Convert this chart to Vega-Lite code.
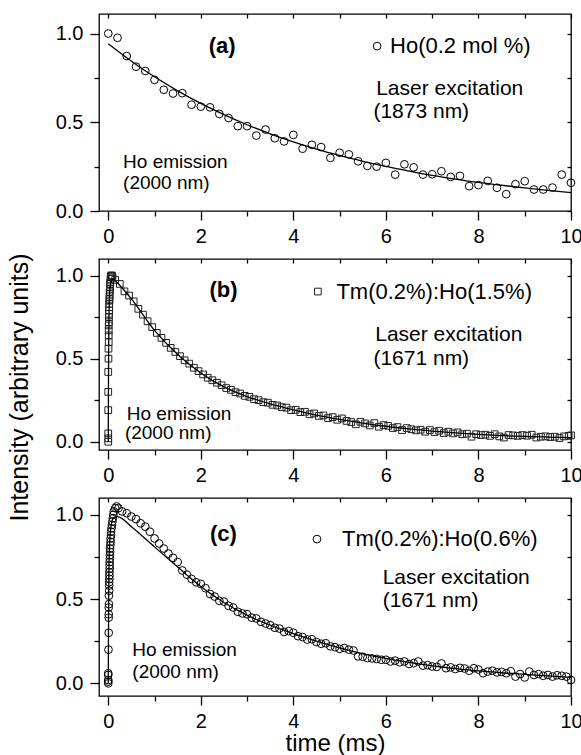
{
  "$schema": "https://vega.github.io/schema/vega-lite/v6.json",
  "padding": {"left": 6, "top": 12, "right": 0, "bottom": 0},
  "bounds": "flush",
  "spacing": 48,
  "datasets": {
    "a_pts": [
      {"t": 0, "I": 1.0}, {"t": 0.2, "I": 0.976}, {"t": 0.4, "I": 0.873}, {"t": 0.6, "I": 0.813}, {"t": 0.8, "I": 0.789},
      {"t": 1.0, "I": 0.739}, {"t": 1.2, "I": 0.683}, {"t": 1.4, "I": 0.662}, {"t": 1.6, "I": 0.664}, {"t": 1.8, "I": 0.599},
      {"t": 2.0, "I": 0.588}, {"t": 2.2, "I": 0.584}, {"t": 2.4, "I": 0.547}, {"t": 2.6, "I": 0.524}, {"t": 2.8, "I": 0.478},
      {"t": 3.0, "I": 0.478}, {"t": 3.2, "I": 0.425}, {"t": 3.4, "I": 0.459}, {"t": 3.6, "I": 0.41}, {"t": 3.8, "I": 0.392},
      {"t": 4.0, "I": 0.429}, {"t": 4.2, "I": 0.351}, {"t": 4.4, "I": 0.373}, {"t": 4.6, "I": 0.36}, {"t": 4.8, "I": 0.299},
      {"t": 5.0, "I": 0.328}, {"t": 5.2, "I": 0.319}, {"t": 5.4, "I": 0.28}, {"t": 5.6, "I": 0.254}, {"t": 5.8, "I": 0.25},
      {"t": 6.0, "I": 0.271}, {"t": 6.2, "I": 0.205}, {"t": 6.4, "I": 0.263}, {"t": 6.6, "I": 0.246}, {"t": 6.8, "I": 0.205},
      {"t": 7.0, "I": 0.207}, {"t": 7.2, "I": 0.224}, {"t": 7.4, "I": 0.192}, {"t": 7.6, "I": 0.198}, {"t": 7.8, "I": 0.14},
      {"t": 8.0, "I": 0.146}, {"t": 8.2, "I": 0.17}, {"t": 8.4, "I": 0.131}, {"t": 8.6, "I": 0.095}, {"t": 8.8, "I": 0.151},
      {"t": 9.0, "I": 0.168}, {"t": 9.2, "I": 0.121}, {"t": 9.4, "I": 0.121}, {"t": 9.6, "I": 0.132}, {"t": 9.8, "I": 0.205},
      {"t": 10.0, "I": 0.159}
    ],
    "a_fit": [
      {"t": 0, "I": 0.942}, {"t": 0.5, "I": 0.844}, {"t": 1.0, "I": 0.756}, {"t": 1.5, "I": 0.677}, {"t": 2.0, "I": 0.606},
      {"t": 2.5, "I": 0.543}, {"t": 3.0, "I": 0.486}, {"t": 3.5, "I": 0.435}, {"t": 4.0, "I": 0.39}, {"t": 4.5, "I": 0.349},
      {"t": 5.0, "I": 0.313}, {"t": 5.5, "I": 0.28}, {"t": 6.0, "I": 0.251}, {"t": 6.5, "I": 0.225}, {"t": 7.0, "I": 0.201},
      {"t": 7.5, "I": 0.18}, {"t": 8.0, "I": 0.161}, {"t": 8.5, "I": 0.145}, {"t": 9.0, "I": 0.13}, {"t": 9.5, "I": 0.116},
      {"t": 10.0, "I": 0.104}
    ],
    "b_pts": [
      {"t": 0, "I": 0.0}, {"t": 0, "I": 0.02}, {"t": 0, "I": 0.05}, {"t": 0, "I": 0.19}, {"t": 0, "I": 0.3},
      {"t": 0, "I": 0.42}, {"t": 0.005, "I": 0.5}, {"t": 0.005, "I": 0.56}, {"t": 0.01, "I": 0.6}, {"t": 0.01, "I": 0.64},
      {"t": 0.01, "I": 0.67}, {"t": 0.01, "I": 0.7}, {"t": 0.015, "I": 0.72}, {"t": 0.015, "I": 0.75}, {"t": 0.015, "I": 0.77},
      {"t": 0.02, "I": 0.79}, {"t": 0.02, "I": 0.81}, {"t": 0.02, "I": 0.83}, {"t": 0.025, "I": 0.85}, {"t": 0.025, "I": 0.86},
      {"t": 0.03, "I": 0.88}, {"t": 0.03, "I": 0.9}, {"t": 0.035, "I": 0.91}, {"t": 0.04, "I": 0.93}, {"t": 0.04, "I": 0.95},
      {"t": 0.045, "I": 0.96}, {"t": 0.05, "I": 0.98}, {"t": 0.055, "I": 0.99}, {"t": 0.06, "I": 1.0}, {"t": 0.07, "I": 1.0},
      {"t": 0.08, "I": 1.0}, {"t": 0.09, "I": 0.99},
      {"t": 0.15, "I": 0.975}, {"t": 0.25, "I": 0.95}, {"t": 0.35, "I": 0.905}, {"t": 0.45, "I": 0.88}, {"t": 0.55, "I": 0.845},
      {"t": 0.65, "I": 0.8}, {"t": 0.75, "I": 0.765}, {"t": 0.85, "I": 0.725}, {"t": 0.95, "I": 0.69}, {"t": 1.05, "I": 0.655},
      {"t": 1.15, "I": 0.625}, {"t": 1.25, "I": 0.595}, {"t": 1.35, "I": 0.565}, {"t": 1.45, "I": 0.54}, {"t": 1.55, "I": 0.515},
      {"t": 1.65, "I": 0.49}, {"t": 1.75, "I": 0.47}, {"t": 1.85, "I": 0.445}, {"t": 1.95, "I": 0.425}, {"t": 2.05, "I": 0.405},
      {"t": 2.15, "I": 0.385}, {"t": 2.25, "I": 0.37}, {"t": 2.35, "I": 0.355}, {"t": 2.45, "I": 0.34}, {"t": 2.55, "I": 0.323},
      {"t": 2.65, "I": 0.312}, {"t": 2.75, "I": 0.298}, {"t": 2.85, "I": 0.29}, {"t": 2.95, "I": 0.276}, {"t": 3.05, "I": 0.27},
      {"t": 3.15, "I": 0.256}, {"t": 3.25, "I": 0.25}, {"t": 3.35, "I": 0.238}, {"t": 3.45, "I": 0.235}, {"t": 3.55, "I": 0.222},
      {"t": 3.65, "I": 0.218}, {"t": 3.75, "I": 0.208}, {"t": 3.85, "I": 0.205}, {"t": 3.95, "I": 0.19}, {"t": 4.05, "I": 0.192},
      {"t": 4.15, "I": 0.178}, {"t": 4.25, "I": 0.18}, {"t": 4.35, "I": 0.165}, {"t": 4.45, "I": 0.17}, {"t": 4.55, "I": 0.155},
      {"t": 4.65, "I": 0.158}, {"t": 4.75, "I": 0.142}, {"t": 4.85, "I": 0.148}, {"t": 4.95, "I": 0.132}, {"t": 5.05, "I": 0.14},
      {"t": 5.15, "I": 0.125}, {"t": 5.25, "I": 0.118}, {"t": 5.35, "I": 0.105}, {"t": 5.45, "I": 0.12}, {"t": 5.55, "I": 0.11},
      {"t": 5.65, "I": 0.098}, {"t": 5.75, "I": 0.112}, {"t": 5.85, "I": 0.09}, {"t": 5.95, "I": 0.1}, {"t": 6.05, "I": 0.095},
      {"t": 6.15, "I": 0.082}, {"t": 6.25, "I": 0.088}, {"t": 6.35, "I": 0.07}, {"t": 6.45, "I": 0.082}, {"t": 6.55, "I": 0.075},
      {"t": 6.65, "I": 0.068}, {"t": 6.75, "I": 0.072}, {"t": 6.85, "I": 0.06}, {"t": 6.95, "I": 0.07}, {"t": 7.05, "I": 0.058},
      {"t": 7.15, "I": 0.066}, {"t": 7.25, "I": 0.052}, {"t": 7.35, "I": 0.06}, {"t": 7.45, "I": 0.05}, {"t": 7.55, "I": 0.056},
      {"t": 7.65, "I": 0.045}, {"t": 7.75, "I": 0.048}, {"t": 7.85, "I": 0.03}, {"t": 7.95, "I": 0.045}, {"t": 8.05, "I": 0.04},
      {"t": 8.15, "I": 0.042}, {"t": 8.25, "I": 0.035}, {"t": 8.35, "I": 0.045}, {"t": 8.45, "I": 0.032}, {"t": 8.55, "I": 0.025},
      {"t": 8.65, "I": 0.04}, {"t": 8.75, "I": 0.038}, {"t": 8.85, "I": 0.035}, {"t": 8.95, "I": 0.04}, {"t": 9.05, "I": 0.036},
      {"t": 9.15, "I": 0.042}, {"t": 9.25, "I": 0.025}, {"t": 9.35, "I": 0.03}, {"t": 9.45, "I": 0.032}, {"t": 9.55, "I": 0.028},
      {"t": 9.65, "I": 0.03}, {"t": 9.75, "I": 0.022}, {"t": 9.85, "I": 0.032}, {"t": 9.95, "I": 0.035}, {"t": 10.0, "I": 0.038}
    ],
    "b_fit": [
      {"t": 0, "I": 0}, {"t": 0.004, "I": 0.3}, {"t": 0.008, "I": 0.55}, {"t": 0.015, "I": 0.75}, {"t": 0.03, "I": 0.9},
      {"t": 0.06, "I": 0.965}, {"t": 0.1, "I": 0.98}, {"t": 0.2, "I": 0.955}, {"t": 0.5, "I": 0.86}, {"t": 1.0, "I": 0.67},
      {"t": 1.5, "I": 0.525}, {"t": 2.0, "I": 0.414}, {"t": 2.5, "I": 0.33}, {"t": 3.0, "I": 0.272}, {"t": 3.5, "I": 0.228},
      {"t": 4.0, "I": 0.192}, {"t": 4.5, "I": 0.16}, {"t": 5.0, "I": 0.134}, {"t": 5.5, "I": 0.112}, {"t": 6.0, "I": 0.093},
      {"t": 6.5, "I": 0.077}, {"t": 7.0, "I": 0.064}, {"t": 7.5, "I": 0.053}, {"t": 8.0, "I": 0.044}, {"t": 8.5, "I": 0.037},
      {"t": 9.0, "I": 0.032}, {"t": 9.5, "I": 0.028}, {"t": 10.0, "I": 0.025}
    ],
    "c_pts": [
      {"t": 0, "I": 0.0}, {"t": 0, "I": 0.01}, {"t": 0, "I": 0.02}, {"t": 0, "I": 0.05}, {"t": 0, "I": 0.06},
      {"t": 0.005, "I": 0.2}, {"t": 0.01, "I": 0.3}, {"t": 0.01, "I": 0.39}, {"t": 0.01, "I": 0.41}, {"t": 0.01, "I": 0.45},
      {"t": 0.015, "I": 0.47}, {"t": 0.015, "I": 0.52}, {"t": 0.02, "I": 0.55}, {"t": 0.02, "I": 0.58}, {"t": 0.02, "I": 0.6},
      {"t": 0.025, "I": 0.62}, {"t": 0.025, "I": 0.64}, {"t": 0.025, "I": 0.66}, {"t": 0.03, "I": 0.68}, {"t": 0.03, "I": 0.7},
      {"t": 0.03, "I": 0.72}, {"t": 0.035, "I": 0.74}, {"t": 0.035, "I": 0.76}, {"t": 0.04, "I": 0.78}, {"t": 0.04, "I": 0.8},
      {"t": 0.045, "I": 0.82}, {"t": 0.05, "I": 0.84}, {"t": 0.05, "I": 0.86}, {"t": 0.06, "I": 0.88}, {"t": 0.06, "I": 0.9},
      {"t": 0.07, "I": 0.92}, {"t": 0.08, "I": 0.94}, {"t": 0.09, "I": 0.96}, {"t": 0.1, "I": 0.98}, {"t": 0.11, "I": 1.0},
      {"t": 0.12, "I": 1.02}, {"t": 0.15, "I": 1.04}, {"t": 0.18, "I": 1.05}, {"t": 0.22, "I": 1.04},
      {"t": 0.3, "I": 1.02}, {"t": 0.4, "I": 1.01}, {"t": 0.5, "I": 0.99}, {"t": 0.6, "I": 0.975}, {"t": 0.7, "I": 0.95},
      {"t": 0.8, "I": 0.93}, {"t": 0.9, "I": 0.9}, {"t": 1.0, "I": 0.86}, {"t": 1.1, "I": 0.83}, {"t": 1.2, "I": 0.8},
      {"t": 1.3, "I": 0.77}, {"t": 1.4, "I": 0.745}, {"t": 1.5, "I": 0.72}, {"t": 1.6, "I": 0.67}, {"t": 1.7, "I": 0.645},
      {"t": 1.8, "I": 0.62}, {"t": 1.9, "I": 0.6}, {"t": 2.0, "I": 0.59}, {"t": 2.1, "I": 0.565}, {"t": 2.2, "I": 0.53},
      {"t": 2.3, "I": 0.515}, {"t": 2.4, "I": 0.49}, {"t": 2.5, "I": 0.485}, {"t": 2.6, "I": 0.46}, {"t": 2.7, "I": 0.45},
      {"t": 2.8, "I": 0.425}, {"t": 2.9, "I": 0.415}, {"t": 3.0, "I": 0.41}, {"t": 3.1, "I": 0.39}, {"t": 3.2, "I": 0.385},
      {"t": 3.3, "I": 0.365}, {"t": 3.4, "I": 0.355}, {"t": 3.5, "I": 0.345}, {"t": 3.6, "I": 0.33}, {"t": 3.7, "I": 0.325},
      {"t": 3.8, "I": 0.305}, {"t": 3.9, "I": 0.31}, {"t": 4.0, "I": 0.3}, {"t": 4.1, "I": 0.28}, {"t": 4.2, "I": 0.275},
      {"t": 4.3, "I": 0.26}, {"t": 4.4, "I": 0.262}, {"t": 4.5, "I": 0.245}, {"t": 4.6, "I": 0.235}, {"t": 4.7, "I": 0.238},
      {"t": 4.8, "I": 0.22}, {"t": 4.9, "I": 0.215}, {"t": 5.0, "I": 0.205}, {"t": 5.1, "I": 0.21}, {"t": 5.2, "I": 0.2},
      {"t": 5.3, "I": 0.195}, {"t": 5.4, "I": 0.16}, {"t": 5.5, "I": 0.158}, {"t": 5.6, "I": 0.15}, {"t": 5.7, "I": 0.148},
      {"t": 5.8, "I": 0.145}, {"t": 5.9, "I": 0.14}, {"t": 6.0, "I": 0.14}, {"t": 6.1, "I": 0.13}, {"t": 6.2, "I": 0.135},
      {"t": 6.3, "I": 0.125}, {"t": 6.4, "I": 0.13}, {"t": 6.5, "I": 0.115}, {"t": 6.6, "I": 0.12}, {"t": 6.7, "I": 0.13},
      {"t": 6.8, "I": 0.105}, {"t": 6.9, "I": 0.108}, {"t": 7.0, "I": 0.1}, {"t": 7.1, "I": 0.098}, {"t": 7.2, "I": 0.118},
      {"t": 7.3, "I": 0.09}, {"t": 7.4, "I": 0.095}, {"t": 7.5, "I": 0.085}, {"t": 7.6, "I": 0.092}, {"t": 7.7, "I": 0.088},
      {"t": 7.8, "I": 0.075}, {"t": 7.9, "I": 0.09}, {"t": 8.0, "I": 0.082}, {"t": 8.1, "I": 0.06}, {"t": 8.2, "I": 0.07},
      {"t": 8.3, "I": 0.075}, {"t": 8.4, "I": 0.065}, {"t": 8.5, "I": 0.068}, {"t": 8.6, "I": 0.06}, {"t": 8.7, "I": 0.072},
      {"t": 8.8, "I": 0.04}, {"t": 8.9, "I": 0.055}, {"t": 9.0, "I": 0.035}, {"t": 9.1, "I": 0.07}, {"t": 9.2, "I": 0.05},
      {"t": 9.3, "I": 0.055}, {"t": 9.4, "I": 0.045}, {"t": 9.5, "I": 0.05}, {"t": 9.6, "I": 0.04}, {"t": 9.7, "I": 0.048},
      {"t": 9.8, "I": 0.045}, {"t": 9.9, "I": 0.04}, {"t": 10.0, "I": 0.02}
    ],
    "c_fit": [
      {"t": 0, "I": 0}, {"t": 0.005, "I": 0.3}, {"t": 0.01, "I": 0.55}, {"t": 0.02, "I": 0.75}, {"t": 0.04, "I": 0.88},
      {"t": 0.07, "I": 0.95}, {"t": 0.12, "I": 0.985}, {"t": 0.2, "I": 0.99}, {"t": 0.5, "I": 0.93}, {"t": 1.0, "I": 0.81},
      {"t": 1.5, "I": 0.69}, {"t": 2.0, "I": 0.575}, {"t": 2.5, "I": 0.48}, {"t": 3.0, "I": 0.405}, {"t": 3.5, "I": 0.345},
      {"t": 4.0, "I": 0.295}, {"t": 4.5, "I": 0.25}, {"t": 5.0, "I": 0.21}, {"t": 5.5, "I": 0.175}, {"t": 6.0, "I": 0.148},
      {"t": 6.5, "I": 0.124}, {"t": 7.0, "I": 0.104}, {"t": 7.5, "I": 0.088}, {"t": 8.0, "I": 0.074}, {"t": 8.5, "I": 0.063},
      {"t": 9.0, "I": 0.053}, {"t": 9.5, "I": 0.044}, {"t": 10.0, "I": 0.035}
    ]
  },
  "vconcat": [
    {
      "width": 472,
      "height": 197,
      "layer": [
        {
          "data": {"name": "a_pts"},
          "mark": {"type": "point", "shape": "circle", "filled": false, "size": 60, "stroke": "black", "strokeWidth": 1, "opacity": 1},
          "encoding": {
            "x": {"field": "t", "type": "quantitative", "scale": {"domain": [-0.2, 10], "nice": false, "zero": false},
              "axis": {"orient": "bottom", "title": null, "values": [0, 1, 2, 3, 4, 5, 6, 7, 8, 9, 10],
                "labelExpr": "datum.value % 2 === 0 ? datum.label : ''",
                "tickSize": {"condition": {"test": "datum.value % 2 !== 0", "value": 5}, "value": 9}}},
            "y": {"field": "I", "type": "quantitative", "scale": {"domain": [0, 1.11], "nice": false, "zero": false},
              "axis": {"orient": "left", "title": null, "values": [0, 0.25, 0.5, 0.75, 1], "format": ".1f",
                "labelExpr": "round(datum.value * 4) % 2 === 0 ? datum.label : ''",
                "tickSize": {"condition": {"test": "round(datum.value * 4) % 2 !== 0", "value": 5}, "value": 9}}}
          }
        },
        {
          "data": {"name": "a_fit"},
          "mark": {"type": "line", "color": "black", "strokeWidth": 1.3, "interpolate": "monotone"},
          "encoding": {
            "x": {"field": "t", "type": "quantitative",
              "axis": {"orient": "top", "title": null, "labels": false, "values": [0, 1, 2, 3, 4, 5, 6, 7, 8, 9, 10], "tickSize": -4}},
            "y": {"field": "I", "type": "quantitative",
              "axis": {"orient": "right", "title": null, "labels": false, "values": [0, 0.25, 0.5, 0.75, 1], "tickSize": -4}}
          }
        },
        {
          "data": {"values": [{}]},
          "mark": {"type": "text", "fontWeight": "bold", "fontSize": 22, "align": "center", "baseline": "middle"},
          "encoding": {"x": {"datum": 2.46, "type": "quantitative", "axis": null}, "y": {"datum": 0.929, "type": "quantitative", "axis": null}, "text": {"value": "(a)"}}
        },
        {
          "data": {"values": [{}]},
          "mark": {"type": "point", "shape": "circle", "filled": false, "size": 60, "stroke": "black", "strokeWidth": 1, "opacity": 1},
          "encoding": {"x": {"datum": 5.81, "type": "quantitative", "axis": null}, "y": {"datum": 0.929, "type": "quantitative", "axis": null}}
        },
        {
          "data": {"values": [{}]},
          "mark": {"type": "text", "align": "left", "baseline": "middle", "fontSize": 22},
          "encoding": {"x": {"datum": 6.09, "type": "quantitative", "axis": null}, "y": {"datum": 0.929, "type": "quantitative", "axis": null}, "text": {"value": "Ho(0.2 mol %)"}}
        },
        {
          "data": {"values": [{}]},
          "mark": {"type": "text", "align": "left", "baseline": "middle"},
          "encoding": {"x": {"datum": 5.79, "type": "quantitative", "axis": null}, "y": {"datum": 0.69, "type": "quantitative", "axis": null}, "text": {"value": "Laser excitation"}}
        },
        {
          "data": {"values": [{}]},
          "mark": {"type": "text", "align": "left", "baseline": "middle"},
          "encoding": {"x": {"datum": 5.73, "type": "quantitative", "axis": null}, "y": {"datum": 0.556, "type": "quantitative", "axis": null}, "text": {"value": "(1873 nm)"}}
        },
        {
          "data": {"values": [{}]},
          "mark": {"type": "text", "align": "left", "baseline": "middle", "fontSize": 19},
          "encoding": {"x": {"datum": 0.32, "type": "quantitative", "axis": null}, "y": {"datum": 0.276, "type": "quantitative", "axis": null}, "text": {"value": "Ho emission"}}
        },
        {
          "data": {"values": [{}]},
          "mark": {"type": "text", "align": "left", "baseline": "middle", "fontSize": 19},
          "encoding": {"x": {"datum": 0.32, "type": "quantitative", "axis": null}, "y": {"datum": 0.155, "type": "quantitative", "axis": null}, "text": {"value": "(2000 nm)"}}
        }
      ]
    },
    {
      "width": 472,
      "height": 191,
      "layer": [
        {
          "data": {"name": "b_pts"},
          "mark": {"type": "point", "shape": "square", "filled": false, "size": 45, "stroke": "#222", "strokeWidth": 1, "opacity": 1},
          "encoding": {
            "x": {"field": "t", "type": "quantitative", "scale": {"domain": [-0.2, 10], "nice": false, "zero": false},
              "axis": {"orient": "bottom", "title": null, "values": [0, 1, 2, 3, 4, 5, 6, 7, 8, 9, 10],
                "labelExpr": "datum.value % 2 === 0 ? datum.label : ''",
                "tickSize": {"condition": {"test": "datum.value % 2 !== 0", "value": 5}, "value": 9}}},
            "y": {"field": "I", "type": "quantitative", "scale": {"domain": [-0.05, 1.1], "nice": false, "zero": false},
              "axis": {"orient": "left", "title": "Intensity (arbitrary units)", "titleX": -72, "titleY": 128, "titleBaseline": "alphabetic", "titleAngle": 270, "titleAlign": "center",
                "values": [0, 0.25, 0.5, 0.75, 1], "format": ".1f",
                "labelExpr": "round(datum.value * 4) % 2 === 0 ? datum.label : ''",
                "tickSize": {"condition": {"test": "round(datum.value * 4) % 2 !== 0", "value": 5}, "value": 9}}}
          }
        },
        {
          "data": {"name": "b_fit"},
          "mark": {"type": "line", "color": "black", "strokeWidth": 1.3, "interpolate": "monotone"},
          "encoding": {
            "x": {"field": "t", "type": "quantitative",
              "axis": {"orient": "top", "title": null, "labels": false, "values": [0, 1, 2, 3, 4, 5, 6, 7, 8, 9, 10], "tickSize": -4}},
            "y": {"field": "I", "type": "quantitative",
              "axis": {"orient": "right", "title": null, "labels": false, "values": [0, 0.25, 0.5, 0.75, 1], "tickSize": -4}}
          }
        },
        {
          "data": {"values": [{}]},
          "mark": {"type": "text", "fontWeight": "bold", "fontSize": 22, "align": "center", "baseline": "middle"},
          "encoding": {"x": {"datum": 2.49, "type": "quantitative", "axis": null}, "y": {"datum": 0.914, "type": "quantitative", "axis": null}, "text": {"value": "(b)"}}
        },
        {
          "data": {"values": [{}]},
          "mark": {"type": "point", "shape": "square", "filled": false, "size": 45, "stroke": "#222", "strokeWidth": 1, "opacity": 1},
          "encoding": {"x": {"datum": 4.53, "type": "quantitative", "axis": null}, "y": {"datum": 0.904, "type": "quantitative", "axis": null}}
        },
        {
          "data": {"values": [{}]},
          "mark": {"type": "text", "align": "left", "baseline": "middle", "fontSize": 22},
          "encoding": {"x": {"datum": 4.93, "type": "quantitative", "axis": null}, "y": {"datum": 0.904, "type": "quantitative", "axis": null}, "text": {"value": "Tm(0.2%):Ho(1.5%)"}}
        },
        {
          "data": {"values": [{}]},
          "mark": {"type": "text", "align": "left", "baseline": "middle"},
          "encoding": {"x": {"datum": 5.77, "type": "quantitative", "axis": null}, "y": {"datum": 0.644, "type": "quantitative", "axis": null}, "text": {"value": "Laser excitation"}}
        },
        {
          "data": {"values": [{}]},
          "mark": {"type": "text", "align": "left", "baseline": "middle"},
          "encoding": {"x": {"datum": 5.73, "type": "quantitative", "axis": null}, "y": {"datum": 0.5, "type": "quantitative", "axis": null}, "text": {"value": "(1671 nm)"}}
        },
        {
          "data": {"values": [{}]},
          "mark": {"type": "text", "align": "left", "baseline": "middle", "fontSize": 19},
          "encoding": {"x": {"datum": 0.4, "type": "quantitative", "axis": null}, "y": {"datum": 0.164, "type": "quantitative", "axis": null}, "text": {"value": "Ho emission"}}
        },
        {
          "data": {"values": [{}]},
          "mark": {"type": "text", "align": "left", "baseline": "middle", "fontSize": 19},
          "encoding": {"x": {"datum": 0.36, "type": "quantitative", "axis": null}, "y": {"datum": 0.05, "type": "quantitative", "axis": null}, "text": {"value": "(2000 nm)"}}
        }
      ]
    },
    {
      "width": 472,
      "height": 198,
      "layer": [
        {
          "data": {"name": "c_pts"},
          "mark": {"type": "point", "shape": "circle", "filled": false, "size": 60, "stroke": "black", "strokeWidth": 1, "opacity": 1},
          "encoding": {
            "x": {"field": "t", "type": "quantitative", "scale": {"domain": [-0.2, 10], "nice": false, "zero": false},
              "axis": {"orient": "bottom", "title": "time (ms)", "titleY": 54, "titleBaseline": "alphabetic", "titleFontSize": 24,
                "values": [0, 1, 2, 3, 4, 5, 6, 7, 8, 9, 10],
                "labelExpr": "datum.value % 2 === 0 ? datum.label : ''",
                "tickSize": {"condition": {"test": "datum.value % 2 !== 0", "value": 5}, "value": 9}}},
            "y": {"field": "I", "type": "quantitative", "scale": {"domain": [-0.075, 1.1], "nice": false, "zero": false},
              "axis": {"orient": "left", "title": null, "values": [0, 0.25, 0.5, 0.75, 1], "format": ".1f",
                "labelExpr": "round(datum.value * 4) % 2 === 0 ? datum.label : ''",
                "tickSize": {"condition": {"test": "round(datum.value * 4) % 2 !== 0", "value": 5}, "value": 9}}}
          }
        },
        {
          "data": {"name": "c_fit"},
          "mark": {"type": "line", "color": "black", "strokeWidth": 1.3, "interpolate": "monotone"},
          "encoding": {
            "x": {"field": "t", "type": "quantitative",
              "axis": {"orient": "top", "title": null, "labels": false, "values": [0, 1, 2, 3, 4, 5, 6, 7, 8, 9, 10], "tickSize": -4}},
            "y": {"field": "I", "type": "quantitative",
              "axis": {"orient": "right", "title": null, "labels": false, "values": [0, 0.25, 0.5, 0.75, 1], "tickSize": -4}}
          }
        },
        {
          "data": {"values": [{}]},
          "mark": {"type": "text", "fontWeight": "bold", "fontSize": 22, "align": "center", "baseline": "middle"},
          "encoding": {"x": {"datum": 2.49, "type": "quantitative", "axis": null}, "y": {"datum": 0.884, "type": "quantitative", "axis": null}, "text": {"value": "(c)"}}
        },
        {
          "data": {"values": [{}]},
          "mark": {"type": "point", "shape": "circle", "filled": false, "size": 60, "stroke": "black", "strokeWidth": 1, "opacity": 1},
          "encoding": {"x": {"datum": 4.51, "type": "quantitative", "axis": null}, "y": {"datum": 0.856, "type": "quantitative", "axis": null}}
        },
        {
          "data": {"values": [{}]},
          "mark": {"type": "text", "align": "left", "baseline": "middle", "fontSize": 22},
          "encoding": {"x": {"datum": 5.05, "type": "quantitative", "axis": null}, "y": {"datum": 0.856, "type": "quantitative", "axis": null}, "text": {"value": "Tm(0.2%):Ho(0.6%)"}}
        },
        {
          "data": {"values": [{}]},
          "mark": {"type": "text", "align": "left", "baseline": "middle"},
          "encoding": {"x": {"datum": 5.93, "type": "quantitative", "axis": null}, "y": {"datum": 0.626, "type": "quantitative", "axis": null}, "text": {"value": "Laser excitation"}}
        },
        {
          "data": {"values": [{}]},
          "mark": {"type": "text", "align": "left", "baseline": "middle"},
          "encoding": {"x": {"datum": 5.93, "type": "quantitative", "axis": null}, "y": {"datum": 0.486, "type": "quantitative", "axis": null}, "text": {"value": "(1671 nm)"}}
        },
        {
          "data": {"values": [{}]},
          "mark": {"type": "text", "align": "left", "baseline": "middle", "fontSize": 19},
          "encoding": {"x": {"datum": 0.52, "type": "quantitative", "axis": null}, "y": {"datum": 0.2, "type": "quantitative", "axis": null}, "text": {"value": "Ho emission"}}
        },
        {
          "data": {"values": [{}]},
          "mark": {"type": "text", "align": "left", "baseline": "middle", "fontSize": 19},
          "encoding": {"x": {"datum": 0.52, "type": "quantitative", "axis": null}, "y": {"datum": 0.07, "type": "quantitative", "axis": null}, "text": {"value": "(2000 nm)"}}
        }
      ]
    }
  ],
  "config": {
    "font": "Liberation Sans",
    "background": "white",
    "view": {"stroke": "black", "strokeWidth": 1.3},
    "axis": {
      "grid": false,
      "domain": false,
      "tickColor": "black",
      "tickWidth": 1.3,
      "labelColor": "black",
      "labelFont": "Liberation Sans",
      "labelFontSize": 20,
      "labelFlush": false,
      "labelOverlap": false,
      "titleColor": "black",
      "titleFont": "Liberation Sans",
      "titleFontWeight": "normal",
      "titleFontSize": 25
    },
    "axisX": {"labelPadding": 6},
    "axisY": {"labelPadding": 7},
    "text": {"font": "Liberation Sans", "fontSize": 21, "color": "black"}
  }
}
